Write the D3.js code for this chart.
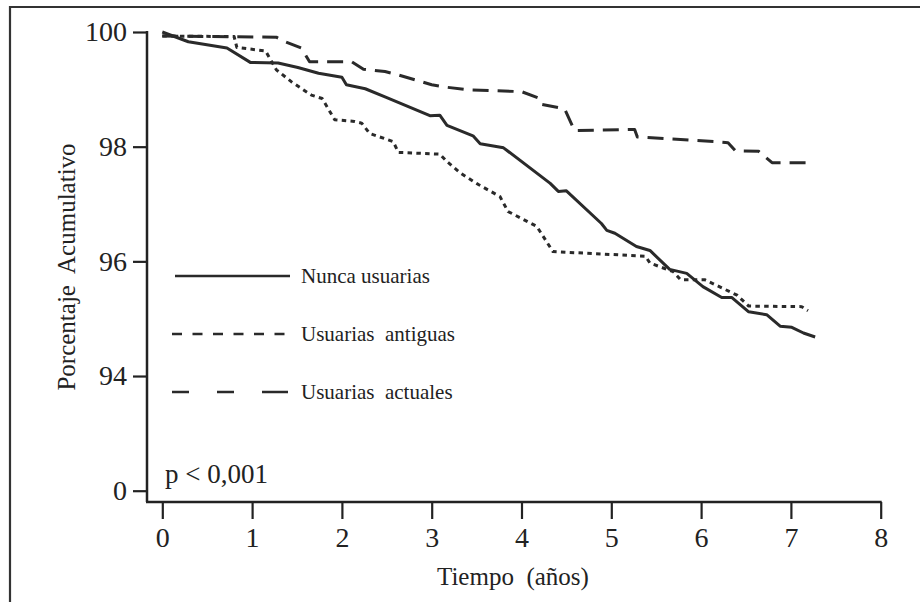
<!DOCTYPE html>
<html>
<head>
<meta charset="utf-8">
<script src="https://cdn.jsdelivr.net/npm/d3@7"></script>
<style>
  body { margin: 0; background: #fff; }
  svg { display: block; }
  text { font-family: "Liberation Serif", "DejaVu Serif", serif; fill: #222; }
</style>
</head>
<body>
<div id="chart"></div>
<script>
// curves: [years, cumulative %]
var nunca = [
  [0, 100], [0.29, 99.83], [0.72, 99.72], [0.98, 99.47], [1.29, 99.46],
  [1.51, 99.38], [1.74, 99.28], [2.0, 99.21], [2.05, 99.08], [2.26, 99.01],
  [2.48, 98.87], [2.98, 98.54], [3.09, 98.55], [3.17, 98.37], [3.46, 98.19],
  [3.54, 98.05], [3.8, 97.98], [4.32, 97.36], [4.41, 97.22], [4.5, 97.23],
  [4.89, 96.66], [4.95, 96.54], [5.04, 96.49], [5.28, 96.26], [5.43, 96.19],
  [5.65, 95.86], [5.84, 95.79], [6.02, 95.56], [6.23, 95.37], [6.34, 95.37],
  [6.53, 95.12], [6.73, 95.07], [6.88, 94.87], [7.01, 94.85], [7.14, 94.75],
  [7.27, 94.68]
]
var antiguas = [
  [0, 99.93], [0.8, 99.92], [0.83, 99.73], [1.15, 99.67], [1.27, 99.34],
  [1.44, 99.13], [1.66, 98.9], [1.78, 98.84], [1.92, 98.47], [2.14, 98.44],
  [2.22, 98.41], [2.31, 98.23], [2.57, 98.09], [2.63, 97.9], [3.09, 97.87],
  [3.17, 97.74], [3.32, 97.54], [3.52, 97.34], [3.76, 97.13], [3.85, 96.87],
  [4.17, 96.61], [4.35, 96.17], [5.38, 96.09], [5.43, 95.97], [5.69, 95.82],
  [5.77, 95.68], [6.04, 95.68], [6.4, 95.41], [6.53, 95.22], [7.12, 95.21],
  [7.19, 95.14]
]
var actuales = [
  [0, 99.93], [1.27, 99.91], [1.37, 99.83], [1.55, 99.72], [1.64, 99.48],
  [2.11, 99.48], [2.24, 99.35], [2.48, 99.31], [2.61, 99.26], [3.0, 99.08],
  [3.15, 99.04], [3.41, 98.99], [4.0, 98.96], [4.19, 98.85], [4.22, 98.74],
  [4.48, 98.66], [4.59, 98.28], [5.26, 98.3], [5.29, 98.17], [6.15, 98.09],
  [6.3, 98.07], [6.38, 97.93], [6.64, 97.92], [6.79, 97.72], [7.23, 97.72]
]
var xTicks = [0, 1, 2, 3, 4, 5, 6, 7, 8]
// the axis is broken: the lowest tick stands for 0
var yTicks = [92, 94, 96, 98, 100]
var yTickLabels = ["0", "94", "96", "98", "100"]

var legendNames = ["Nunca usuarias", "Usuarias  antiguas", "Usuarias  actuales"]
var legendDash = [null, "10,10.5", "17,28,17,28,26"]
var curveDash = [null, "4.5,4.3", "16,9"]

var width = 920, height = 602
var axisX = 147, axisY = 502

var svg = d3.select("#chart").append("svg")
  .attr("width", width)
  .attr("height", height)

// scanned frame, cut off on the right and bottom
svg.append("path")
  .attr("d", "M10," + (height + 5) + "V7H" + (width + 5))
  .attr("fill", "none")
  .attr("stroke", "#333")
  .attr("stroke-width", 2.2)

var x = d3.scaleLinear().domain([0, 8]).range([162.3, 880.7])
var y = d3.scaleLinear().domain([92, 100]).range([490.7, 32])

// axis lines
svg.append("line")
  .attr("x1", axisX).attr("x2", axisX)
  .attr("y1", y(100) - 1).attr("y2", axisY)
  .attr("stroke", "#222").attr("stroke-width", 2.5)
svg.append("line")
  .attr("x1", axisX - 1).attr("x2", x(8) + 1)
  .attr("y1", axisY).attr("y2", axisY)
  .attr("stroke", "#222").attr("stroke-width", 2.5)

var xAxis = svg.append("g")
  .attr("transform", "translate(0," + axisY + ")")
  .call(d3.axisBottom(x).tickValues(xTicks).tickSize(17).tickSizeOuter(0).tickPadding(8))
xAxis.select(".domain").remove()
xAxis.selectAll(".tick line").attr("stroke", "#222").attr("stroke-width", 2.2)
xAxis.selectAll(".tick text")
  .style("font-family", "Liberation Serif")
  .style("font-size", "28px")
  .attr("fill", "#222")

var yAxis = svg.append("g")
  .attr("transform", "translate(" + axisX + ",0)")
  .call(d3.axisLeft(y).tickValues(yTicks).tickSize(14).tickSizeOuter(0).tickPadding(6)
    .tickFormat(function(d, i){ return yTickLabels[i] }))
yAxis.select(".domain").remove()
yAxis.selectAll(".tick line").attr("stroke", "#222").attr("stroke-width", 2.2)
yAxis.selectAll(".tick text")
  .style("font-family", "Liberation Serif")
  .style("font-size", "28px")
  .attr("fill", "#222")

// curves
var line = d3.line()
  .x(function(d){ return x(d[0]) })
  .y(function(d){ return y(d[1]) })

;[nunca, antiguas, actuales].forEach(function(series, i){
  svg.append("path")
    .datum(series)
    .attr("d", line)
    .attr("fill", "none")
    .attr("stroke", "#2a2a2a")
    .attr("stroke-width", 3)
    .attr("stroke-linejoin", "round")
    .attr("stroke-dasharray", curveDash[i])
})

// legend
var legend = svg.append("g")
legendNames.forEach(function(name, i){
  var ly = 276 + i * 58
  legend.append("line")
    .attr("x1", i === 0 ? 175 : 172).attr("x2", 290)
    .attr("y1", ly).attr("y2", ly)
    .attr("stroke", "#2a2a2a")
    .attr("stroke-width", 2.4)
    .attr("stroke-dasharray", legendDash[i])
  legend.append("text")
    .attr("x", 301)
    .attr("y", ly + 7)
    .style("font-size", "21px")
    .style("white-space", "pre")
    .text(name)
})

svg.append("text")
  .attr("x", 165)
  .attr("y", 483)
  .style("font-size", "27px")
  .text("p < 0,001")

svg.append("text")
  .attr("x", 437)
  .attr("y", 585)
  .style("font-size", "25px")
  .style("white-space", "pre")
  .text("Tiempo  (años)")

svg.append("text")
  .attr("transform", "translate(75,267) rotate(-90)")
  .attr("text-anchor", "middle")
  .style("font-size", "25px")
  .style("white-space", "pre")
  .text("Porcentaje  Acumulativo")
</script>
</body>
</html>
